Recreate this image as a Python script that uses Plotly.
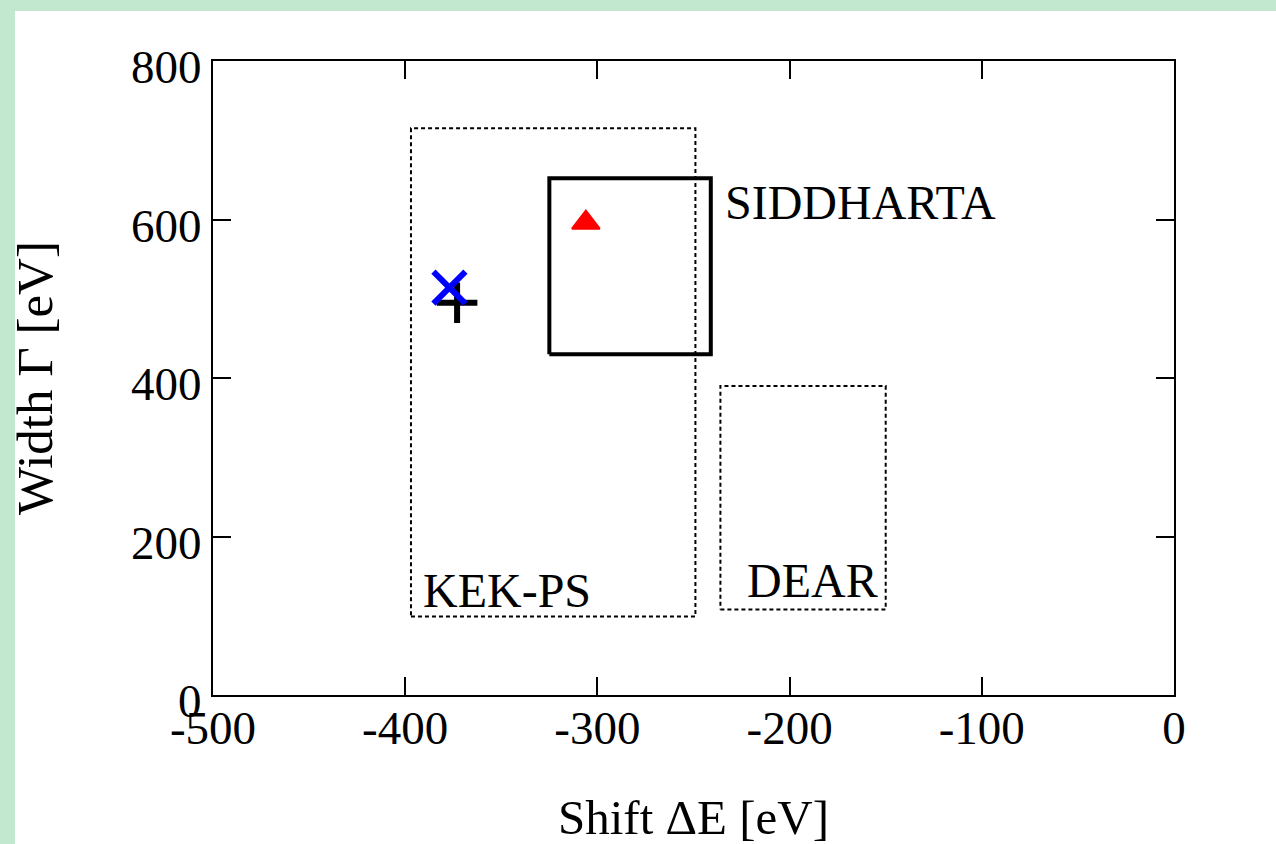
import plotly.graph_objects as go

# ---- data ----
experiments = ["KEK-PS", "SIDDHARTA", "DEAR"]
shift_lo = [-397, -325, -236]
shift_hi = [-249, -241, -150]
width_lo = [99, 430, 108]
width_hi = [715, 652, 390]
box_dash = ["dot", "solid", "dot"]
box_width = [2, 4, 2]

point_names = ["triangle", "cross", "plus"]
point_shift = [-306, -377, -373]
point_width = [596, 514, 495]

label_x = [-347, -163, -188]
label_y = [132, 621, 145]

x_ticks = [-500, -400, -300, -200, -100, 0]
y_ticks = [0, 200, 400, 600, 800]

x_title = "Shift ΔE [eV]"
y_title = "Width Γ [eV]"

W, H = 1276, 844
L, R, T, B = 213, 102, 61, 149
pw, ph = W - L - R, H - T - B

fig = go.Figure()

for i, name in enumerate(experiments):
    xs = [shift_lo[i], shift_hi[i], shift_hi[i], shift_lo[i], shift_lo[i]]
    ys = [width_lo[i], width_lo[i], width_hi[i], width_hi[i], width_lo[i]]
    fig.add_trace(go.Scatter(
        x=xs, y=ys, mode="lines", name=name,
        line=dict(color="black", width=box_width[i],
                  dash="4px,3px" if box_dash[i] == "dot" else "solid"),
        hoverinfo="skip", showlegend=False))

# points
fig.add_trace(go.Scatter(x=[point_shift[2]], y=[point_width[2]], mode="markers",
                         marker=dict(symbol="cross-thin", size=29,
                                     line=dict(color="black", width=6)),
                         showlegend=False))
fig.add_trace(go.Scatter(x=[point_shift[1]], y=[point_width[1]], mode="markers",
                         marker=dict(symbol="x-thin", size=32,
                                     line=dict(color="blue", width=6)),
                         showlegend=False))
fig.add_trace(go.Scatter(x=[point_shift[0]], y=[point_width[0]], mode="markers",
                         marker=dict(symbol="triangle-up", size=24, color="red",
                                     line=dict(width=2, color="red")),
                         showlegend=False))

font_family = "Liberation Serif, Times New Roman, serif"
for i, name in enumerate(experiments):
    fig.add_annotation(x=label_x[i], y=label_y[i], text=name, showarrow=False,
                       font=dict(family=font_family, size=48, color="black"),
                       xanchor="center", yanchor="middle")

# x-axis title as annotation
fig.add_annotation(xref="paper", yref="paper", x=0.5, y=(695 - 818) / ph,
                   text=x_title, showarrow=False, xanchor="center", yanchor="middle",
                   font=dict(family=font_family, size=49, color="black"))

# white inner area over green border
fig.add_shape(type="rect", xref="paper", yref="paper",
              x0=(15 - L) / pw, x1=(W - L + 5) / pw,
              y0=-(B + 5) / ph, y1=(ph + T - 11) / ph,
              fillcolor="white", line=dict(width=0), layer="below")

axis_common = dict(showline=True, linecolor="black", linewidth=2, mirror="ticks",
                   ticks="inside", ticklen=18, tickwidth=1.5, tickcolor="black",
                   showgrid=False, zeroline=False,
                   tickfont=dict(family=font_family, size=47, color="black"))

fig.update_xaxes(range=[-500, 0], tickvals=x_ticks,
                 ticktext=[str(v) for v in x_ticks],
                 ticklabelstandoff=-9,
                 **axis_common)
fig.update_yaxes(range=[0, 800], tickvals=y_ticks,
                 ticktext=[str(v) for v in y_ticks],
                 ticklabelshift=6,
                 title=dict(text=y_title, standoff=62,
                            font=dict(family=font_family, size=51, color="black")),
                 **axis_common)

fig.update_layout(width=W, height=H, margin=dict(l=L, r=R, t=T, b=B, autoexpand=False),
                  paper_bgcolor="#c3e8d0", plot_bgcolor="white", showlegend=False)

fig.write_html("out.html")
